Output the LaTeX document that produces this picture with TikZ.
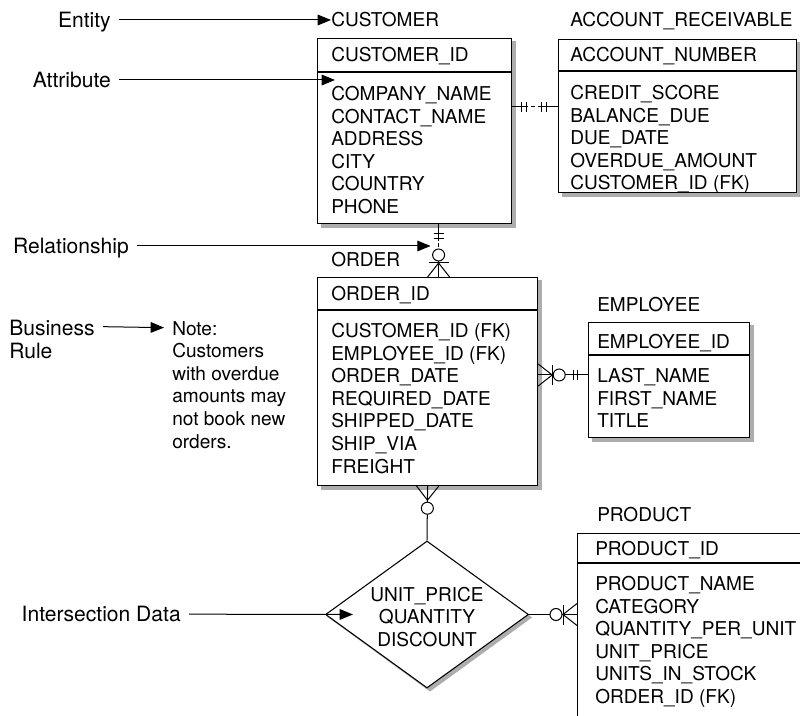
\documentclass[tikz,border=0pt]{standalone}
\usepackage{fontspec}
\setmainfont{TeX Gyre Heros}
\usetikzlibrary{arrows.meta,shapes.geometric,backgrounds,decorations.markings,calc}

\newcommand{\entfont}{\fontsize{14.3pt}{16.95pt}\selectfont}
\newcommand{\tagfont}{\fontsize{15.8pt}{16.95pt}\selectfont}

\tikzset{
    box/.style =    {rectangle,
                    anchor=north west,
                    fill=white,
                    draw=black,
                    line width=0.9pt,
                    inner sep=0pt},
    assoc/.style =  {diamond,
                    fill=white,
                    draw=black,
                    line width=0.8pt,
                    inner sep=0pt,
                    minimum width=152.25pt,
                    minimum height=110.25pt},
    castshadow/.style = {fill=black!32},
    divider/.style = {line width=0.9pt},
    head/.style =   {anchor=base west, inner sep=0pt, font=\entfont},
    field/.style =  {anchor=base west, inner sep=0pt, font=\entfont},
    fields/.style = {anchor=north west, inner sep=0pt, align=left, font=\entfont},
    assoctext/.style = {inner sep=0pt, align=center, font=\entfont},
    note/.style =   {anchor=north west, inner xsep=6pt, inner ysep=0pt,
                    align=left, font=\entfont},
    tagtext/.style = {inner xsep=6pt, inner ysep=0pt, font=\tagfont},
    tagrow/.style = {tagtext, anchor=east, text height=10.8pt, text depth=0pt},
    -,
    pointer/.style = {-{Triangle[length=10pt,width=8pt]}, line width=0.75pt},
    relline/.style = {line width=0.75pt},
    markline/.style = {solid, line width=0.75pt},
    onebar/.style = {postaction={decorate, decoration={markings,
                    mark=at position #1 with {\draw[markline] (0pt,-3.75pt) -- (0pt,3.75pt);}}}},
    apexbar/.style = {postaction={decorate, decoration={markings,
                    mark=at position -10.5pt with {\draw[markline] (0pt,-7.5pt) -- (0pt,7.5pt);}}}},
    zeroring/.style = {postaction={decorate, decoration={markings,
                    mark=at position #1 with {\draw[markline, fill=white] (0pt,0pt) circle (4.5pt);}}}},
    manycrow/.style = {postaction={decorate, decoration={markings,
                    mark=at position -10.5pt with {\draw[markline] (10.5pt,8.25pt) -- (0pt,0pt) -- (10.5pt,-8.25pt);}}}}
}

\begin{document}
\begin{tikzpicture}[x=0.75pt, y=-0.75pt]
    \useasboundingbox (0,0) rectangle (800,716);

    % entities
    \node[box, minimum width=145.5pt, minimum height=138.75pt]  (cust) at (317,38)  {};
    \node[box, minimum width=178.5pt, minimum height=114.75pt]  (acct) at (558,39)  {};
    \node[box, minimum width=165pt,   minimum height=156pt]     (ord)  at (317,277) {};
    \node[box, minimum width=120.75pt, minimum height=86.25pt]  (emp)  at (588,322) {};
    \node[box, minimum width=195pt,   minimum height=180pt]     (prod) at (577,533) {};
    \node[assoc] (isect) at (427,614.5) {};

    % shadows
    \begin{pgfonlayer}{background}
        \fill[castshadow] ($(cust.south west)+(3.5,3.5)$) rectangle ($(cust.north east)+(3.5,3.5)$);
        \fill[castshadow] ($(acct.south west)+(3.5,3.5)$) rectangle ($(acct.north east)+(3.5,3.5)$);
        \fill[castshadow] ($(ord.south west)+(3.5,3.5)$)  rectangle ($(ord.north east)+(3.5,3.5)$);
        \fill[castshadow] ($(emp.south west)+(3.5,3.5)$)  rectangle ($(emp.north east)+(3.5,3.5)$);
        \fill[castshadow] ($(prod.south west)+(3.5,3.5)$) rectangle ($(prod.north east)+(3.5,3.5)$);
        \fill[castshadow] ($(isect.north)+(2,2)$) -- ($(isect.east)+(3,3)$)
            -- ($(isect.south)+(3,3)$) -- ($(isect.west)+(2,2)$) -- cycle;
    \end{pgfonlayer}

    \draw[divider] (cust.west |- 0,72)  -- (cust.east |- 0,72);
    \draw[divider] (acct.west |- 0,71)  -- (acct.east |- 0,71);
    \draw[divider] (ord.west |- 0,310)  -- (ord.east |- 0,310);
    \draw[divider] (emp.west |- 0,355)  -- (emp.east |- 0,355);
    \draw[divider] (prod.west |- 0,563) -- (prod.east |- 0,563);

    \node[head]   (custtitle) at (331,27) {CUSTOMER};
    \node[field]  (custkey)   at (331,62) {CUSTOMER\_ID};
    \node[fields] (custattr)  at (331,86) {COMPANY\_NAME\\CONTACT\_NAME\\ADDRESS\\CITY\\COUNTRY\\PHONE};

    \node[head]   (accttitle) at (570,27) {ACCOUNT\_RECEIVABLE};
    \node[field]  (acctkey)   at (570,62) {ACCOUNT\_NUMBER};
    \node[fields] (acctattr)  at (570,85) {CREDIT\_SCORE\\BALANCE\_DUE\\DUE\_DATE\\OVERDUE\_AMOUNT\\CUSTOMER\_ID (FK)};

    \node[head]   (ordtitle)  at (331,267) {ORDER};
    \node[field]  (ordkey)    at (331,301) {ORDER\_ID};
    \node[fields] (ordattr)   at (331,323) {CUSTOMER\_ID (FK)\\EMPLOYEE\_ID (FK)\\ORDER\_DATE\\REQUIRED\_DATE\\SHIPPED\_DATE\\SHIP\_VIA\\FREIGHT};

    \node[head]   (emptitle)  at (597,312) {EMPLOYEE};
    \node[field]  (empkey)    at (597,349) {EMPLOYEE\_ID};
    \node[fields] (empattr)   at (597,368) {LAST\_NAME\\FIRST\_NAME\\TITLE};

    \node[head]   (prodtitle) at (597,522) {PRODUCT};
    \node[field]  (prodkey)   at (595,555) {PRODUCT\_ID};
    \node[fields] (prodattr)  at (595,576) {PRODUCT\_NAME\\CATEGORY\\QUANTITY\_PER\_UNIT\\UNIT\_PRICE\\UNITS\_IN\_STOCK\\ORDER\_ID (FK)};

    \node[assoctext] (isecttext) at ($(isect.center)+(0,2.5)$) {UNIT\_PRICE\\QUANTITY\\DISCOUNT};

    % relationships
    \draw[relline, dash pattern=on 12pt off 2.25pt on 3pt off 2.25pt on 20pt,
          onebar=6.75pt, onebar=10.5pt, onebar=-12.75pt, onebar=-9pt]
        (cust.east |- 0,107) -- (acct.west |- 0,107);
    \draw[relline, dash pattern=on 12.75pt off 1.5pt on 3pt off 2.25pt on 30pt,
          onebar=6.75pt, onebar=10.5pt, zeroring=-16.5pt, apexbar, manycrow]
        ($(cust.south)+(24,0)$) -- ($(ord.north)+(11,0)$);
    \draw[relline, onebar=8.25pt, onebar=11.25pt, zeroring=-15.75pt, apexbar, manycrow]
        (emp.west |- 0,375) -- (ord.east |- 0,375);
    \draw[relline, zeroring=-16.5pt, manycrow] (isect.north) -- (ord.south);
    \draw[relline, zeroring=-15.75pt, apexbar, manycrow] (isect.east) -- (isect.east -| prod.west);

    % annotations
    \node[tagrow] (entl) at (119,20)  {Entity};
    \node[tagrow] (attl) at (119,80)  {Attribute};
    \node[tagrow] (rell) at (137,246) {Relationship};
    \node[tagrow] (isdl) at (189,614) {Intersection Data};
    \node[tagtext, anchor=north east, align=left] (bizl) at (103,320) {Business\\Rule};
    \node[note] (rule) at (164,321) {Note:\\Customers\\with overdue\\amounts may\\not book new\\orders.};

    \draw[pointer] (entl) -- (entl -| custtitle.west);
    \draw[pointer] (attl) -- ($(attl -| custattr.west)+(4,0)$);
    \draw[pointer] (rell) -- ($(rell -| ord.north)+(3,0)$);
    \draw[pointer] (isdl) -- ($(isect.west)+(28,0)$);
    \draw[pointer] ([yshift=-5pt]bizl.north east) -- ([yshift=-5pt]rule.north west);
\end{tikzpicture}
\end{document}
